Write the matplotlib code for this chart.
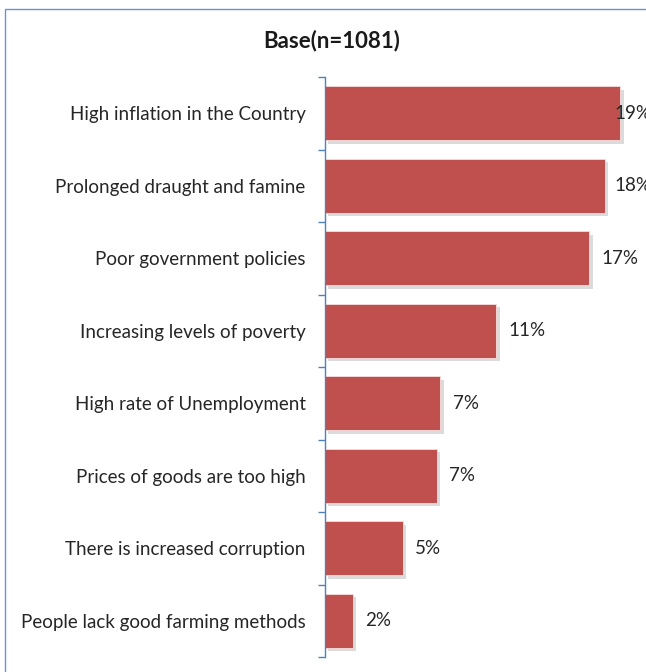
import numpy as np
import matplotlib
matplotlib.use("Agg")
import matplotlib.pyplot as plt
import matplotlib.patheffects as pe
from matplotlib.patches import Rectangle

plt.rcParams['font.family'] = ['Lato', 'DejaVu Sans']

reasons = [
    "High inflation in the Country",
    "Prolonged draught and famine",
    "Poor government policies",
    "Increasing levels of poverty",
    "High rate of Unemployment",
    "Prices of goods are too high",
    "There is increased corruption",
    "People lack good farming methods",
]
shares = [19.0, 18.0, 17.0, 11.0, 7.4, 7.2, 5.0, 1.8]

W, H = 646, 672
fig = plt.figure(figsize=(W / 100, H / 100), dpi=100)

# outer chart border, runs off the right and bottom edges
fig.patches.append(Rectangle((5 / W, -0.1), 1.2, 1.1 - 9 / H, transform=fig.transFigure,
                             fill=False, edgecolor="#6A96CF", linewidth=1.0))

ax = fig.add_axes([325 / W, 1 - 657 / H, 1 - 325 / W, (657 - 77) / H])

y = np.arange(len(reasons))
bar_color = "#C0504D"
bars = ax.barh(y, shares, height=0.75, color=bar_color, edgecolor="#f4dede", linewidth=0.6,
               path_effects=[pe.SimplePatchShadow(offset=(2.5, -2.5), shadow_rgbFace="#888888", alpha=0.3),
                             pe.Normal()])

ax.set_xlim(0, 321 / 15.55)
ax.set_ylim(len(reasons) - 0.5, -0.5)

cap = 18.6
for b, v in zip(bars, shares):
    lx = min(v + 0.8, cap)
    ax.text(lx, b.get_y() + b.get_height() / 2, f"{round(v)}%", ha="left", va="center",
            fontsize=13.5, color="#262626")

ax.set_yticks(y)
ax.set_yticklabels(reasons, fontsize=13.5, color="#262626")
ax.set_yticks(np.arange(len(reasons) + 1) - 0.5, minor=True)
ax.tick_params(axis="y", which="major", length=0, pad=14)
ax.tick_params(axis="y", which="minor", length=5, color="#4F81BD", width=1.0)
ax.set_xticks([])

for s in ["top", "right", "bottom"]:
    ax.spines[s].set_visible(False)
ax.spines["left"].set_color("#4F81BD")
ax.spines["left"].set_linewidth(1.0)

fig.text(332 / W, 1 - 41 / H, "Base(n=1081)", ha="center", va="center",
         fontsize=16, fontweight="bold", color="#1a1a1a")

fig.savefig("out.png", dpi=100)
